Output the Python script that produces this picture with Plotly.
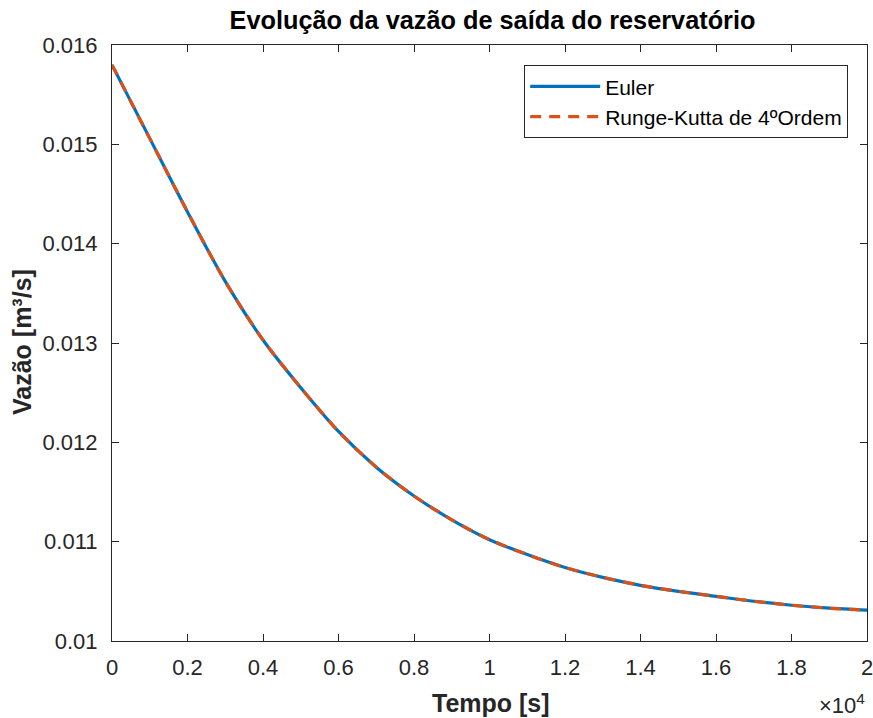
import plotly.graph_objects as go

# Time [s]
tempo = [0, 1000, 2000, 3000, 4000, 5000, 6000, 7000, 8000, 9000, 10000,
         11000, 12000, 13000, 14000, 15000, 16000, 17000, 18000, 19000, 20000]
# Outflow [m^3/s] - Euler
vazao_euler = [0.01580, 0.01506, 0.01432, 0.01362, 0.01303, 0.01255, 0.01211,
               0.01175, 0.01146, 0.01122, 0.01102, 0.01087, 0.01074, 0.01064,
               0.01056, 0.01050, 0.01045, 0.01040, 0.01036, 0.01033, 0.01031]
# Outflow [m^3/s] - Runge-Kutta 4th order
vazao_rk4 = [0.01580, 0.01506, 0.01432, 0.01362, 0.01303, 0.01255, 0.01211,
             0.01175, 0.01146, 0.01122, 0.01102, 0.01087, 0.01074, 0.01064,
             0.01056, 0.01050, 0.01045, 0.01040, 0.01036, 0.01033, 0.01031]

x_tickvals = [0, 2000, 4000, 6000, 8000, 10000, 12000, 14000, 16000, 18000, 20000]
x_ticktext = ["0", "0.2", "0.4", "0.6", "0.8", "1", "1.2", "1.4", "1.6", "1.8", "2"]
y_tickvals = [0.010, 0.011, 0.012, 0.013, 0.014, 0.015, 0.016]
y_ticktext = ["0.01", "0.011", "0.012", "0.013", "0.014", "0.015", "0.016"]

FONT = "Liberation Sans, Arial, Helvetica, sans-serif"
AX = "#262626"

fig = go.Figure()
fig.add_trace(go.Scatter(x=tempo, y=vazao_euler, mode="lines", name="Euler",
                         line=dict(color="#0072BD", width=3.2, shape="spline", smoothing=0.8)))
fig.add_trace(go.Scatter(x=tempo, y=vazao_rk4, mode="lines", name="Runge-Kutta de 4ºOrdem",
                         line=dict(color="#D95319", width=3.2, dash="11px,8px",
                                   shape="spline", smoothing=0.8)))

axis_common = dict(showgrid=False, zeroline=False, showline=True, linecolor=AX, linewidth=1.2,
                   mirror="ticks", ticks="inside", ticklen=7, tickcolor=AX, tickwidth=1.2,
                   automargin=False, ticklabeloverflow="allow",
                   tickfont=dict(family=FONT, size=22, color=AX))

fig.update_xaxes(range=[0, 20000], tickvals=x_tickvals, ticktext=x_ticktext,
                 ticklabelstandoff=6, **axis_common)
fig.update_yaxes(range=[0.010, 0.016], tickvals=y_tickvals, ticktext=y_ticktext,
                 ticklabelstandoff=9, **axis_common)

fig.update_layout(
    width=873, height=718,
    margin=dict(l=112, r=6, t=45, b=77),
    paper_bgcolor="white", plot_bgcolor="white",
    title=dict(text="<b>Evolução da vazão de saída do reservatório</b>",
               font=dict(family=FONT, size=25.3, color="black"),
               x=(492.5 / 873), xanchor="center", xref="container",
               y=1 - 20 / 718, yanchor="middle", yref="container"),
    legend=dict(x=0.9748, y=0.9664, xanchor="right", yanchor="top",
                bordercolor=AX, borderwidth=1.2, bgcolor="white",
                font=dict(family=FONT, size=21, color="black"),
                itemwidth=70, tracegroupgap=0, entrywidth=245),
    showlegend=True,
)

# axis titles
fig.add_annotation(text="<b>Tempo [s]</b>", xref="paper", yref="paper",
                   x=(491 - 112) / 755, y=(641 - 703) / 596,
                   xanchor="center", yanchor="middle", showarrow=False,
                   font=dict(family=FONT, size=25, color=AX))
fig.add_annotation(text="<b>Vazão [m³/s]</b>", xref="paper", yref="paper",
                   x=(22 - 112) / 755, y=(641 - 342) / 596, textangle=-90,
                   xanchor="center", yanchor="middle", showarrow=False,
                   font=dict(family=FONT, size=25, color=AX))
# exponent marker
fig.add_annotation(text="×10<sup>4</sup>", xref="paper", yref="paper",
                   x=(867 - 112) / 755, y=(641 - 704) / 596,
                   xanchor="right", yanchor="middle", showarrow=False,
                   font=dict(family=FONT, size=22, color=AX))

fig.write_html("out.html", config={"displayModeBar": False},
               post_script="document.body.style.margin='0';document.body.style.overflow='hidden';")
